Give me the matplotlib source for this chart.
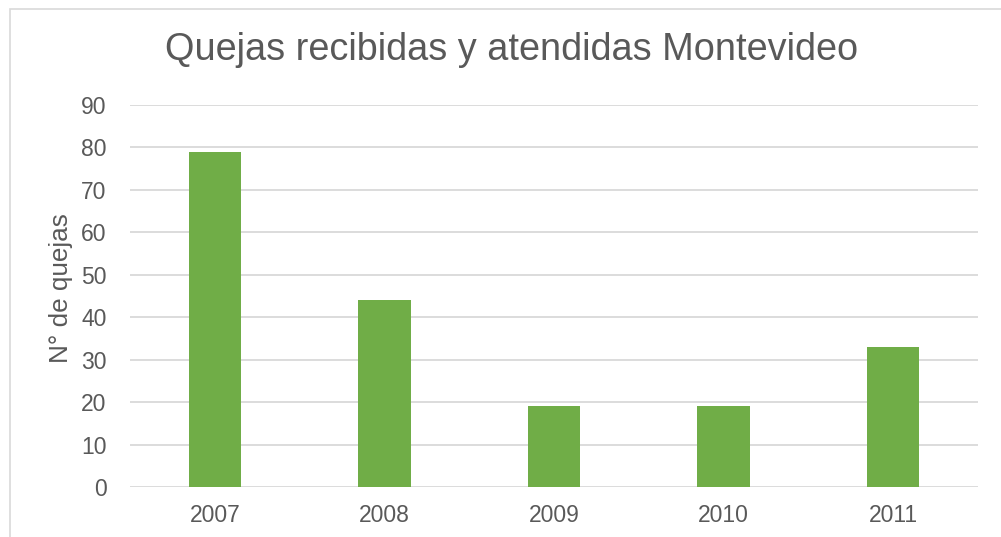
import matplotlib.pyplot as plt
from matplotlib.patches import Rectangle

years = ["2007", "2008", "2009", "2010", "2011"]
quejas = [79, 44, 19, 19, 33]
yticks = [0, 10, 20, 30, 40, 50, 60, 70, 80, 90]

plt.rcParams['font.family'] = ['Liberation Sans', 'DejaVu Sans']
gray = "#595959"

fig = plt.figure(figsize=(10.01, 5.37), dpi=100)
ax = fig.add_axes([130/1001, 1-487/537, 848/1001, (487-105)/537])

x = range(len(years))
ax.bar(x, quejas, width=0.31, color="#70ad47", zorder=3)
ax.set_xlim(-0.5, len(years)-0.5)
ax.set_ylim(0, 90)
ax.set_yticks(yticks)
ax.set_xticks(list(x))
ax.set_xticklabels(years)
ax.tick_params(axis='both', length=0, labelsize=16.5, labelcolor=gray)
ax.tick_params(axis='y', pad=17)
ax.tick_params(axis='x', pad=12)
ax.grid(axis='y', color="#d9d9d9", linewidth=1.3, zorder=0)
for s in ax.spines.values():
    s.set_visible(False)
ax.set_ylabel("N° de quejas", fontsize=18.8, color=gray)
ax.yaxis.set_label_coords(-0.067, 0.52)

fig.text(512/1001, 1-50/537, "Quejas recibidas y atendidas Montevideo",
         ha='center', va='center', fontsize=27.3, color=gray)

# chart frame
fig.patches.append(Rectangle((10/1001, -0.05), 1.2, 1-9/537+0.05,
                             transform=fig.transFigure, fill=False,
                             edgecolor="#d9d9d9", linewidth=1.2))

fig.savefig("out.png", dpi=100)
